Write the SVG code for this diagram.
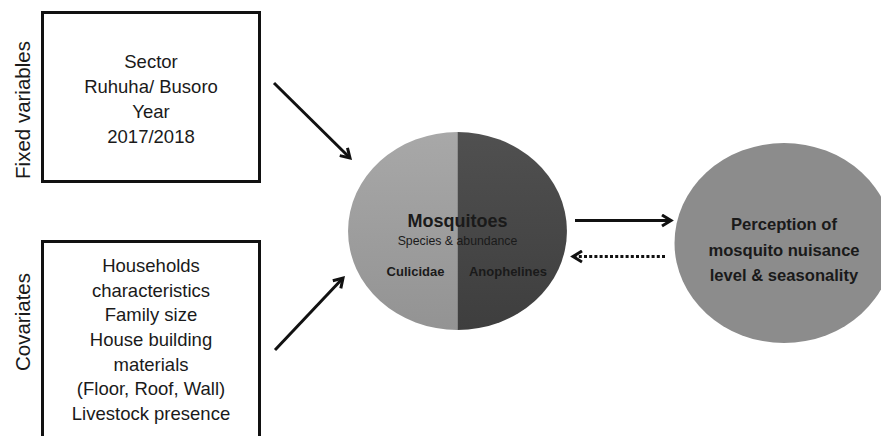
<svg xmlns="http://www.w3.org/2000/svg" width="881" height="436" viewBox="0 0 881 436">
  <style>
    .box { fill: #ffffff; stroke: #111111; stroke-width: 3; }
    .t { font-family: "Liberation Sans", Arial, sans-serif; fill: #1a1a1a; text-anchor: middle; }
    .side { font-size: 20.5px; }
    .boxtxt { font-size: 18.5px; }
    .b { font-weight: bold; }
    .conn { stroke: #111111; stroke-width: 3; fill: none; }
    .dotted { stroke-dasharray: 3 2.2; }
  </style>
  <defs>
    <marker id="head" markerUnits="userSpaceOnUse" viewBox="0 0 14 14" refX="11" refY="7" markerWidth="14" markerHeight="14" orient="auto">
      <path d="M2,1.5 L11,7 L2,12.5" fill="none" stroke="#111111" stroke-width="3" stroke-linejoin="miter"/>
    </marker>
    <linearGradient id="lightHalf" x1="0" y1="0" x2="0" y2="1">
      <stop offset="0" stop-color="#a8a8a8"/>
      <stop offset="1" stop-color="#939393"/>
    </linearGradient>
    <linearGradient id="darkHalf" x1="0" y1="0" x2="0" y2="1">
      <stop offset="0" stop-color="#505050"/>
      <stop offset="1" stop-color="#3e3e3e"/>
    </linearGradient>
  </defs>

  <rect width="881" height="436" fill="#ffffff"/>

  <!-- side labels -->
  <text class="t side" transform="translate(29.5,110) rotate(-90)">Fixed variables</text>
  <text class="t side" transform="translate(29.5,322) rotate(-90)">Covariates</text>

  <!-- fixed variables box -->
  <g id="fixed">
    <rect class="box" x="42.5" y="12.5" width="217" height="169"/>
    <text class="t boxtxt" x="151" y="68">Sector</text>
    <text class="t boxtxt" x="151" y="93">Ruhuha/ Busoro</text>
    <text class="t boxtxt" x="151" y="118">Year</text>
    <text class="t boxtxt" x="151" y="143">2017/2018</text>
  </g>

  <!-- covariates box (runs off the bottom edge) -->
  <g id="covariates">
    <rect class="box" x="42.5" y="241.5" width="217" height="210"/>
    <text class="t boxtxt" x="151" y="272">Households</text>
    <text class="t boxtxt" x="151" y="296.7">characteristics</text>
    <text class="t boxtxt" x="151" y="321.3">Family size</text>
    <text class="t boxtxt" x="151" y="346">House building</text>
    <text class="t boxtxt" x="151" y="370.7">materials</text>
    <text class="t boxtxt" x="151" y="395.3">(Floor, Roof, Wall)</text>
    <text class="t boxtxt" x="151" y="420">Livestock presence</text>
  </g>

  <!-- mosquitoes split ellipse -->
  <g id="mosquitoes">
    <path d="M457.5,132 A109.5,99 0 0 0 457.5,330 Z" fill="url(#lightHalf)"/>
    <path d="M457.5,132 A109.5,99 0 0 1 457.5,330 Z" fill="url(#darkHalf)"/>
    <text class="t b" x="457.5" y="226.5" font-size="18px">Mosquitoes</text>
    <text class="t" x="457.5" y="245" font-size="12.3px">Species &amp; abundance</text>
    <text class="t b" x="415.5" y="275.5" font-size="13px">Culicidae</text>
    <text class="t b" x="508" y="275.5" font-size="13px">Anophelines</text>
  </g>

  <!-- perception ellipse (cut by the right edge) -->
  <g id="perception">
    <ellipse cx="784" cy="243" rx="109.5" ry="100" fill="#8c8c8c"/>
    <text class="t b" x="784" y="230" font-size="16.6px">Perception of</text>
    <text class="t b" x="784" y="256" font-size="16.6px">mosquito nuisance</text>
    <text class="t b" x="784" y="281" font-size="16.6px">level &amp; seasonality</text>
  </g>

  <!-- connectors -->
  <g id="connectors">
    <line class="conn" x1="274" y1="83" x2="350" y2="158" marker-end="url(#head)"/>
    <line class="conn" x1="275" y1="350" x2="343" y2="278" marker-end="url(#head)"/>
    <line class="conn" x1="575" y1="220.5" x2="671" y2="220.5" marker-end="url(#head)"/>
    <line class="conn dotted" x1="665" y1="256.5" x2="573" y2="256.5" marker-end="url(#head)"/>
  </g>
</svg>
